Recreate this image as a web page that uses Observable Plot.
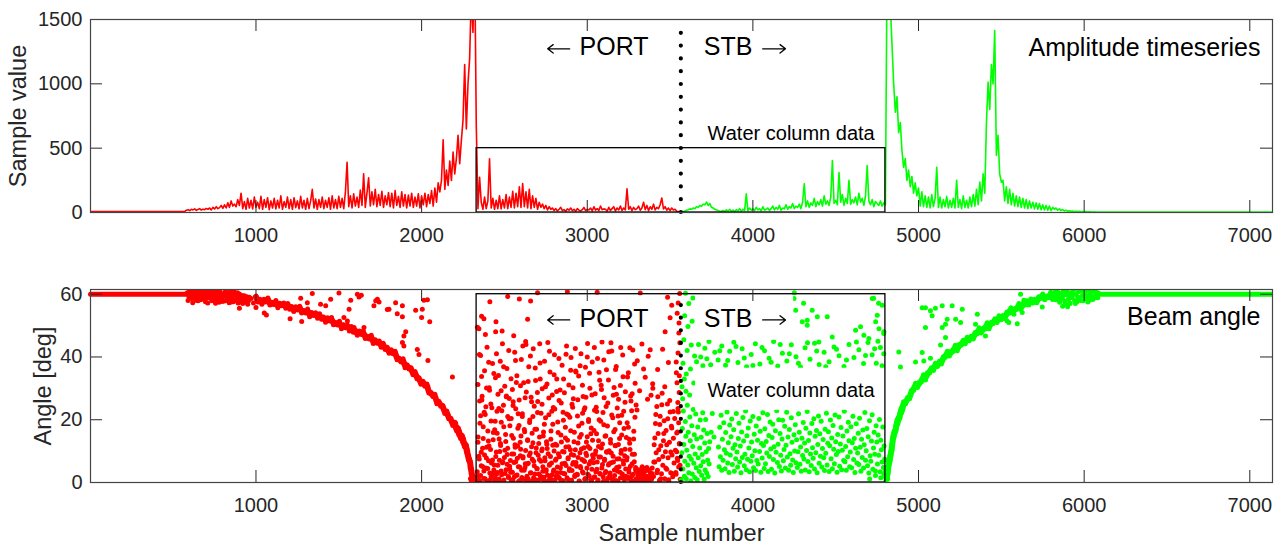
<!DOCTYPE html>
<html>
<head>
<meta charset="utf-8">
<script src="https://cdn.jsdelivr.net/npm/d3@7"></script>
<script src="https://cdn.jsdelivr.net/npm/@observablehq/plot@0.6"></script>
<style>
  html, body { margin: 0; padding: 0; background: white; }
  #chart svg { display: block; }
</style>
</head>
<body>
<div id="chart"></div>
<script>
// ================= DATA =================
const xTicks = [1000, 2000, 3000, 4000, 5000, 6000, 7000];
const ampTicks = [0, 500, 1000, 1500];
const angleTicks = [0, 20, 40, 60];
const firstSample = 1;
const lastSample = 7137;

// ---- Amplitude timeseries: one value every ampStep samples ----
const ampStep = 10;
const ampFlatPort = 8;
const ampFlatStb = 4;
const ampPortStart = 580;
const ampPort = [
  18,22,15,25,20,28,17,24,30,19,26,22,31,
  25,35,20,40,28,45,30,38,55,32,
  60,35,75,40,90,50,65,45,100,55,
  150,30,85,25,110,35,95,28,120,40,
  80,30,125,25,100,40,115,22,90,35,
  110,28,95,35,130,25,85,40,120,30,
  100,25,115,38,90,28,125,35,95,25,
  110,30,90,180,35,105,25,100,40,120,
  30,95,40,115,25,130,35,100,30,125,
  40,110,30,160,390,45,130,35,145,50,
  120,40,175,55,300,40,150,270,50,160,
  60,180,45,140,55,165,40,130,60,155,
  45,150,35,170,55,125,40,160,50,140,
  35,135,50,150,40,120,50,145,35,130,
  60,150,45,140,70,170,50,190,80,230,
  160,250,565,180,330,210,400,250,470,300,
  420,600,380,560,720,1150,650,1000,1200,1700,1400,2000,680,
  30,274,80,25,120,30,90,
  417,35,110,25,95,30,130,28,100,35,
  140,30,120,40,165,35,150,45,200,40,
  225,45,160,35,180,30,130,40,110,25,
  80,40,65,30,55,20,45,25,35,15,
  30,12,25,40,15,22,10,28,18,35,
  15,25,10,30,18,12,22,40,15,25,
  20,35,12,45,18,30,15,50,22,28,
  25,10,40,15,30,45,12,35,20,50,
  15,35,20,185,25,45,15,40,22,30,
  50,18,35,80,22,55,15,45,25,65,
  20,40,30,60,113,28,45,18,35,15,
  35,20,25,10,8,3
];
const ampStbStart = 3570;
const ampStb = [
  3,8,12,18,
  22,28,25,35,30,45,40,55,48,65,
  60,80,55,70,40,35,25,20,15,12,
  10,15,8,20,12,25,10,18,8,22,
  12,30,10,25,15,145,12,35,18,28,
  15,40,20,30,12,45,18,25,35,15,
  30,50,20,40,25,55,18,35,28,60,
  25,45,35,70,30,50,40,65,30,80,
  223,45,90,40,75,55,110,45,85,60,
  100,50,130,65,90,55,120,404,70,95,
  60,311,80,140,55,110,70,250,65,100,
  75,120,60,150,80,110,55,130,365,90,
  60,100,45,85,70,55,90,50,75,60,
  1900,2400,1600,1300,1000,780,900,620,700,480,
  350,420,250,330,200,280,150,230,130,190,
  50,160,45,130,40,120,35,140,45,110,
  352,40,120,35,100,45,125,35,95,40,
  110,35,250,40,100,30,130,40,95,35,
  120,45,140,50,180,60,236,90,300,150,
  700,1013,800,1150,1000,1414,443,600,300,236,
  250,90,200,70,180,60,150,50,130,45,
  120,40,110,35,100,30,90,35,80,28,
  75,25,70,22,60,20,55,18,50,15,
  40,25,35,18,28,15,22,12,18,10,
  14,9,12,8,10,7,9,6,8,6,
  7,5,6,5,4,5,4,4
];

// ---- Beam angle (bottom) ----
const angleFlat = 60;
const portFlatEnd = 580;
const stbFlatStart = 6085;

const portCluster = [
  [585,60.5],[595,59.2],[605,60.8],[612,58.6],[620,59.9],[630,61.0],[638,58.1],[645,60.2],[655,59.0],[662,61.2],
  [670,58.4],[680,60.6],[688,59.4],[695,57.6],[705,60.9],[712,58.9],[720,61.1],[728,59.7],[735,57.9],[745,60.3],
  [752,58.5],[760,61.0],[768,59.3],[777,57.4],[785,60.7],[792,58.8],[800,60.0],[810,57.8],[818,61.2],[826,59.1],
  [835,58.3],[842,60.4],[850,57.5],[858,59.6],[867,60.8],[875,58.0],[884,59.2],[892,57.2],[900,60.1],[910,58.7],
  [920,57.0],[930,59.5],[940,58.1],[950,56.8],[960,59.0],[900,55.5],[640,59.8],[700,59.0],[760,58.6],[830,60.0],
  [590,58.0],[600,61.3],[610,59.6],[618,57.3],[625,60.4],[634,58.9],[642,61.4],[650,57.9],[658,60.0],[666,58.2],
  [675,59.8],[684,61.3],[692,58.6],[700,60.3],[709,57.2],[716,59.5],[724,60.8],[732,58.3],[740,61.2],[748,59.0],
  [756,57.1],[764,60.4],[772,58.5],[780,61.1],[788,59.7],[796,57.7],[805,59.3],[814,60.6],[822,58.0],[830,59.4],
  [838,57.3],[846,60.9],[854,58.8],[863,57.6],[871,59.9],[880,58.4],[888,60.5],[896,58.9],[905,57.5],[915,59.6],
  [925,58.3],[935,57.6],[945,59.2],[955,57.9],[970,58.6],[985,57.2],[1000,55.8],[1050,54.0]
];
const portArcStart = 1000, portArcStep = 12;
const portArc = [
  59.2,57.5,58.4,56.8,58.4,57.5,58.8,56.6,57.4,56.7,58.0,55.7,57.1,56.3,57.2,55.5,
  57.0,55.2,56.1,54.5,56.0,55.0,56.2,54.0,54.8,54.0,55.3,52.8,54.2,53.2,54.1,52.3,
  53.8,52.0,52.7,51.1,52.5,51.5,52.6,50.3,51.0,50.2,51.4,49.0,50.3,49.3,50.2,48.3,
  49.7,47.9,48.6,46.9,48.3,47.2,48.3,45.9,46.6,45.7,46.9,44.3,45.5,44.4,45.1,43.1,
  44.4,42.4,43.1,41.2,42.3,41.0,41.8,39.1,39.6,38.4,39.4,36.6,37.5,36.2,36.6,34.3,
  35.4,33.1,33.4,31.3,32.3,30.7,31.4,28.5,28.7,27.4,28.1,25.1,25.9,24.3,24.5,22.0,
  22.8,20.3,20.5,18.2,19.1
];
const portSteepStart = 2203, portSteepStep = 3;
const portSteep = [
  18.9,17.3,17.8,16.4,17.5,16.6,17.4,15.3,16.5,14.9,15.4,14.0,15.1,14.2,15.0,12.9,
  14.1,12.4,12.8,11.3,12.3,11.3,12.0,9.6,10.5,8.6,8.8,7.1,7.7,6.5,6.8,4.2,
  4.7,2.6,2.5,0.5,1.1
];
const portOutliers = [
  [1063,53.4],[1206,52.2],[1270,58.7],[1276,51.3],[1310,57.3],[1340,60.2],[1390,56.8],[1421,56.3],[1451,58.4],
  [1501,60.4],[1531,52.6],[1552,51.5],[1562,55.2],[1572,58.1],[1592,49.4],[1612,60.0],[1622,59.1],[1636,59.7],
  [1652,49.4],[1712,56.3],[1723,57.9],[1733,58.4],[1743,57.5],[1793,55.1],[1803,55.2],[1843,57.3],[1853,53.8],
  [1884,56.3],[1884,52.8],[1893,46.7],[1884,44.6],[1893,43.5],[1904,48.0],[1964,54.9],[2004,55.2],[2000,52.6],
  [2049,51.2],[2014,58.1],[2035,58.2],[1974,42.4],[1984,40.8],[2038,38.9],[2186,33.6],
  [2295,1.2],[2300,0.3],[2315,0.8],[2320,1.5],[2325,0.4]
];
// scattered port water-column samples, listed as [sample, angle]
const portWater = [
  [2338,2.1],[2345,8.4],[2352,0.6],[2360,5.3],[2368,10.9],[2376,3.7],[2383,1.2],[2391,7.8],[2399,4.5],[2407,11.6],[2414,0.9],[2422,6.2],[2430,2.8],
  [2341,14.5],[2356,21.3],[2372,17.8],[2388,24.1],[2403,13.2],[2419,19.6],[2433,15.9],
  [2340,31.2],[2349,40.8],[2365,27.5],[2380,35.6],[2395,43.1],[2410,29.4],[2428,37.9],
  [2337,49.5],[2362,53.0],[2385,47.2],[2412,57.6],[2376,52.2],[2346,49.0],[2447,48.0],[2356,40.5],
  [2438,5.6],[2444,1.4],[2451,9.7],[2457,3.2],[2464,0.4],[2470,7.1],[2477,11.8],[2483,2.5],[2490,6.6],[2497,0.8],[2503,10.3],[2510,4.1],[2517,8.9],[2524,1.9],[2531,5.2],
  [2441,16.8],[2455,22.7],[2468,13.9],[2481,19.2],[2494,24.6],[2507,15.3],[2520,21.0],[2533,18.1],
  [2446,33.4],[2461,28.1],[2475,38.6],[2488,44.2],[2502,30.7],[2515,36.3],[2529,26.8],
  [2449,51.2],[2486,48.3],[2520,59.3],
  [2538,3.3],[2545,9.1],[2551,0.7],[2558,6.4],[2565,11.2],[2571,2.2],[2578,7.7],[2585,0.3],[2592,4.9],[2598,10.6],[2605,1.6],[2612,8.2],[2619,3.9],[2626,6.0],[2632,0.9],
  [2541,20.4],[2554,14.1],[2568,23.5],[2581,17.3],[2595,12.8],[2608,21.9],[2622,16.2],
  [2548,29.6],[2562,41.5],[2575,34.0],[2589,26.3],[2602,39.2],[2616,31.8],[2630,44.0],
  [2556,46.8],[2590,58.5],[2628,44.9],[2658,57.8],[2640,52.0],
  [2637,5.9],[2644,1.1],[2650,8.6],[2657,3.0],[2664,11.4],[2670,0.5],[2677,6.8],[2684,2.7],[2691,9.5],[2697,4.4],[2704,0.8],[2711,7.3],[2718,2.0],[2725,10.1],[2732,5.0],
  [2640,13.6],[2653,19.9],[2667,15.7],[2680,24.3],[2694,17.0],[2707,12.4],[2721,22.1],[2734,14.8],
  [2647,36.9],[2661,27.2],[2674,42.6],[2688,32.5],[2701,25.8],[2715,38.1],[2728,29.9],[2700,60.5],
  [2738,1.7],[2745,6.9],[2751,3.6],[2758,10.8],[2765,0.6],[2771,5.5],[2778,8.3],[2785,2.4],[2792,11.9],[2798,4.0],[2805,0.9],[2812,7.5],[2819,3.1],[2826,9.2],[2832,1.3],
  [2741,18.6],[2754,13.0],[2768,21.6],[2781,16.4],[2795,23.9],[2808,12.2],[2822,19.3],
  [2748,30.5],[2762,44.6],[2775,35.2],[2789,27.9],[2802,40.7],[2816,33.0],[2830,26.1],
  [2838,4.7],[2845,0.4],[2851,9.9],[2858,2.9],[2865,6.1],[2871,11.3],[2878,1.5],[2885,7.9],[2892,3.8],[2898,10.4],[2905,0.7],[2912,5.8],[2919,8.7],[2926,2.3],[2932,6.4],
  [2841,15.1],[2854,22.4],[2868,17.6],[2881,13.5],[2895,20.8],[2908,24.9],[2922,16.0],
  [2848,37.4],[2862,28.6],[2875,43.5],[2889,31.1],[2902,39.8],[2916,26.7],[2930,35.5],[2880,60.8],
  [2938,2.6],[2945,8.0],[2951,0.5],[2958,5.1],[2965,10.7],[2971,3.4],[2978,7.0],[2985,1.0],[2992,9.3],[2998,4.6],[3005,11.5],[3012,2.1],[3019,6.7],[3026,0.6],[3032,8.8],
  [2941,21.2],[2954,14.4],[2968,18.9],[2981,23.2],[2995,12.9],[3008,20.1],[3022,15.5],
  [2948,33.9],[2962,41.0],[2975,27.4],[2989,36.7],[3002,44.3],[3016,30.0],[3030,38.4],
  [3038,6.3],[3045,1.8],[3051,10.0],[3058,4.2],[3065,0.8],[3071,8.1],[3078,2.7],[3085,11.0],[3092,5.7],[3098,0.4],[3105,7.4],[3112,3.5],[3119,9.6],[3126,1.4],[3132,6.0],
  [3041,16.6],[3054,24.0],[3068,13.3],[3081,19.5],[3095,22.3],[3108,14.7],[3122,18.0],
  [3048,28.3],[3062,39.5],[3075,32.6],[3089,44.8],[3102,27.0],[3116,35.9],[3130,41.7],[3060,60.6],
  [3138,3.0],[3145,9.4],[3151,0.9],[3158,6.5],[3165,2.2],[3171,11.7],[3178,4.8],[3185,0.5],[3192,7.6],[3198,3.3],[3205,10.2],[3212,1.6],[3219,5.9],[3226,8.5],[3232,2.0],
  [3141,12.6],[3154,20.6],[3168,16.9],[3181,23.7],[3195,14.0],[3208,21.4],[3222,17.2],
  [3148,41.9],[3162,30.3],[3175,37.0],[3189,26.5],[3202,43.0],[3216,33.7],[3230,28.9],
  [3238,7.2],[3245,1.3],[3251,4.3],[3258,10.5],[3265,0.7],[3271,6.0],[3278,2.6],[3285,9.0],[3292,4.0],[3298,1.1],
  [3241,19.0],[3254,13.8],[3268,22.9],[3281,16.3],[3295,24.7],
  [3248,35.0],[3262,27.6],[3275,42.2],[3289,31.6],[3302,38.8],[3316,29.2],[3330,44.1],
  [3310,2.3],[3322,0.6],[3335,3.9],[3320,60.4],
  [3345,1.5],[3360,4.8],[3375,0.8],[3390,2.9],[3350,33.5],[3368,40.2],[3385,27.8],
  [3402,6.5],[3408,14.2],[3414,21.7],[3420,3.1],[3426,27.3],[3432,10.4],[3438,18.5],[3444,1.2],[3450,24.8],[3456,8.3],
  [3462,15.6],[3468,30.5],[3474,4.6],[3480,12.0],[3486,20.3],[3492,0.9],[3498,26.1],[3504,9.7],[3510,17.4],[3516,2.8],
  [3520,22.6],[3425,36.0],[3455,42.5],[3490,38.2],[3470,48.0],[3500,52.5],[3510,56.5],[3485,59.0],
  [3535,3.2],[3540,9.8],[3545,16.1],[3550,22.5],[3555,28.7],[3538,35.0],[3548,41.3],[3553,47.6],[3543,53.9],[3558,60.2],
  [3560,5.5],[3557,12.3],[3552,19.0],[3547,25.5],[3542,31.8],[3537,38.4],[3559,44.5],[3554,50.8],[3549,57.2],[3561,1.0],
  [3556,34.0],[3546,7.0],
  [2350,26.0],[2362,33.8],[2378,22.4],[2392,30.1],[2405,38.3],[2418,25.0],[2436,34.7],[2452,41.0],[2466,23.6],[2480,29.2],
  [2495,36.9],[2511,27.3],[2526,42.1],[2540,33.1],[2553,25.7],[2567,38.9],[2583,21.9],[2597,30.8],[2611,43.5],[2625,27.0],
  [2643,32.2],[2657,40.3],[2672,21.0],[2686,36.5],[2699,28.7],[2713,44.2],[2727,24.9],[2742,38.6],[2757,31.4],[2772,41.8],
  [2786,22.7],[2800,34.3],[2815,29.0],[2829,39.5],[2843,25.3],[2857,33.0],[2872,40.9],[2886,21.5],[2900,35.8],[2914,30.2],
  [2928,42.7],[2943,26.4],[2957,37.2],[2971,31.0],[2986,23.8],[3000,40.0],[3014,34.8],[3028,27.9],[3043,43.0],[3057,22.6],
  [3071,35.1],[3086,29.6],[3100,39.0],[3114,24.2],[3128,32.7],[3143,44.5],[3157,27.8],[3171,36.0],[3186,21.2],[3200,30.9],
  [3214,40.6],[3228,25.6],[3243,33.6],[3257,42.9],[3271,28.3],[3286,37.8],[3300,23.1],[3340,36.2],[3380,42.3],[3395,31.5]
];
// denser port water-column samples, one every portDenseStep samples
const portDenseStart = 2336, portDenseStep = 4;
const portDense = [
  3.4,12.8,0.7,7.5,18.9,2.2,9.6,26.3,5.1,14.0,
  1.3,8.8,21.7,4.6,11.2,0.5,16.4,6.9,30.2,3.0,
  10.5,1.9,23.8,7.2,13.6,4.0,0.8,19.5,8.3,2.6,
  15.7,5.5,34.1,1.1,9.9,12.4,3.7,22.9,6.3,0.4,
  17.8,8.0,2.9,13.1,27.6,5.8,10.9,1.6,20.3,4.3,
  7.0,0.9,15.0,3.3,24.5,9.1,1.8,12.0,6.6,31.9,
  2.4,11.6,5.0,18.2,0.6,8.5,14.8,3.9,21.0,7.8,
  1.0,16.9,4.8,10.2,28.8,2.0,13.4,6.1,0.3,19.1,
  9.4,3.1,25.7,7.4,12.7,1.5,5.3,17.0,0.9,11.0,
  4.5,22.3,8.7,2.7,14.5,33.0,6.8,1.2,10.7,3.6,
  16.1,0.5,7.9,20.6,4.1,12.2,2.3,9.2,26.9,5.7,
  1.4,13.8,6.2,0.8,18.6,3.5,10.0,23.4,7.1,2.1,
  11.9,4.9,15.9,1.7,8.2,29.5,3.2,12.9,6.0,0.6,
  19.8,9.7,2.8,14.2,5.4,21.8,1.0,7.6,11.4,4.4,
  0.7,16.5,8.9,3.8,24.0,6.4,13.0,1.9,10.4,35.2,
  5.2,2.5,12.6,18.0,0.4,9.5,4.7,15.3,7.3,22.1,
  3.0,11.1,6.7,1.3,27.2,8.6,14.6,2.6,19.4,5.9,
  10.8,0.9,17.4,4.2,13.5,7.7,1.6,23.0,9.0,3.4,
  15.5,6.5,0.5,11.5,20.0,2.9,8.1,31.0,4.6,12.3,
  1.8,18.4,7.0,3.1,14.9,9.8,0.8,25.3,5.6,10.1,
  2.2,13.7,6.3,21.5,1.1,8.4,16.2,4.0,11.8,0.6,
  28.1,7.5,3.6,12.1,5.0,19.0,1.4,9.3,15.1,2.7,
  6.9,22.7,0.9,10.6,4.3,14.3,8.0,1.7,17.6,3.3,
  12.5,5.2,26.0,2.0,9.0,0.5,13.9,6.6,20.8,4.8,
  1.2,3.5,0.7,2.4,4.1,1.6,0.4,3.0,2.2,5.0,
  0.9,2.8,4.4,1.3,3.7,0.6,2.0,26.5,1.5,4.0,
  0.8,3.2,2.5,1.0,4.6,30.0,1.9,12.0,6.5,18.8,
  9.5,24.2,3.9,15.6,7.3,0.7,21.1,11.7,2.8,28.4,
  5.5,13.3,19.7,1.2,9.8,16.6,4.2,25.0,7.9,0.5,
  12.8,22.5,3.1,17.9,8.8,1.8,14.1,6.2,20.4,10.3,
  2.6,15.8,7.7,23.6,4.9,12.4
];

const stbSteepStart = 4805, stbSteepStep = 3;
const stbSteep = [
  1.5,1.1,2.8,2.6,5.0,5.3,7.3,6.4,8.7,8.5,10.2,10.1,12.5,12.9,15.0,14.2,
  16.3,15.5,16.9,16.3,18.3,18.2,19.9,18.6,20.6,19.8,21.1,20.4,22.2,22.1,23.6,22.2,
  24.2,23.3,24.6
];
const stbArcStart = 4910, stbArcStep = 12;
const stbArc = [
  25.7,25.1,27.1,26.7,29.4,29.4,31.6,30.3,32.0,32.1,34.3,32.7,35.0,34.9,36.6,35.7,
  38.0,37.0,38.6,37.8,40.1,39.9,41.8,40.3,41.8,41.8,43.7,42.0,44.0,43.8,45.3,44.2,
  46.3,45.2,46.6,45.7,47.8,47.4,49.3,47.6,49.1,48.9,50.9,49.0,51.0,50.7,52.2,51.0,
  53.1,51.9,53.2,52.2,54.3,53.9,55.7,54.0,55.4,55.2,57.0,55.1,57.0,56.6,57.9,56.6,
  58.5,57.2,58.4,57.3,59.2,58.6,60.1,58.2,59.4,58.9,60.6,58.5
];
const stbCluster = [
  [5822,60.6],[5830,58.2],[5838,61.1],[5845,59.0],[5852,57.4],[5860,60.3],[5867,58.7],[5875,61.2],[5882,57.8],[5890,59.8],
  [5897,60.9],[5905,58.4],[5912,57.2],[5920,60.5],[5927,59.1],[5935,61.3],[5942,58.0],[5950,59.9],[5957,57.6],[5965,60.8],
  [5972,58.9],[5980,61.0],[5987,59.4],[5995,57.9],[6002,60.2],[6010,58.6],[6017,61.2],[6025,59.6],[6032,58.1],[6040,60.7],
  [6047,59.2],[6055,61.0],[6062,58.8],[6070,60.1],[6077,59.5],[6085,60.4],[5870,56.2],[5885,56.8],[5900,56.0],[5915,57.0],
  [5826,59.4],[5842,60.2],[5856,58.6],[5872,59.6],[5888,61.0],[5902,59.9],[5918,58.9],[5932,60.1],[5947,57.0],[5962,59.0],
  [5977,58.0],[5992,60.9],[6007,59.2],[6022,57.5],[6037,59.8],[6052,58.3],[6067,61.1],[6082,58.9]
];
const stbOutliers = [
  [4800,3.5],[4803,0.5],[4809,4.8],[4813,1.0],[4816,6.5],
  [5022,55.7],[5042,55.7],[5072,54.7],[5082,53.1],[5102,55.5],[5143,56.3],[5203,56.3],[5264,55.2],[5224,52.0],[5254,51.0],
  [5355,53.6],[5344,50.4],[5143,49.4],[5163,50.4],[5173,52.0],[5042,49.4],[5163,46.2],[5133,43.8],[4881,41.6],[4891,36.8],
  [4982,38.4],[5022,41.4],[5032,38.7],[5072,39.6],[5404,46.7],[5616,60.0],[5636,58.1],[5747,55.9],
  [5535,51.5],[5545,51.0],[5596,50.6],[5576,53.6],[5626,54.2]
];
// scattered starboard water-column samples, listed as [sample, angle]
const stbWater = [
  [3572,30.5],[3578,38.0],[3583,45.5],[3588,53.1],[3593,60.3],[3598,34.6],[3603,42.1],[3608,49.7],[3613,57.0],[3618,27.9],
  [3623,36.2],[3628,43.8],[3633,51.4],[3638,58.8],[3643,31.7],[3648,40.3],[3576,26.7],[3586,33.0],[3596,29.1],
  [3660,38.5],[3672,44.0],[3685,40.0],[3698,37.2],[3710,42.8],[3722,39.4],[3735,44.9],[3745,37.5],
  [3755,22.0],[3765,14.5],[3770,41.5],[3748,16.0],
  [3790,39.0],[3812,43.5],[3835,37.4],[3860,41.8],[3885,44.7],[3910,38.2],[3935,42.6],[3962,36.9],[3990,40.8],[4015,44.2],
  [4042,37.8],[4070,42.0],[4098,39.6],[4125,44.9],[4150,37.1],[4178,41.2],[4205,38.7],[4232,43.9],[4260,40.1],[4288,36.8],
  [4315,42.9],[4345,39.3],[4372,44.4],[4400,37.6],[4430,41.5],[4460,38.5],[4490,43.2],[4520,40.4],[4550,37.0],[4580,44.0],
  [4610,39.8],[4640,42.3],[4668,37.9],[4695,44.6],[4720,40.7],[4745,38.0],[4770,43.0],[4790,41.0],[4755,45.0],[4780,37.2],
  [3800,42.0],[3848,38.9],[3898,43.3],[3948,39.7],[4000,37.3],[4055,43.0],[4110,38.3],[4165,44.0],[4220,41.0],[4275,38.0],
  [4330,44.5],[4385,41.9],[4440,36.9],[4505,42.5],[4565,39.0],[4625,44.8],[4680,40.5],[4735,42.6],
  [4248,58.6],[4258,54.9],[4298,51.2],[4328,50.1],[4358,54.9],[4389,52.8],[4449,52.8],[4479,46.4],[4620,48.5],[4650,49.6],
  [4670,46.9],[4700,45.9],[4721,58.6],[4741,51.2],[4751,53.3],[4781,56.5],[4761,49.0],[4791,48.0],[4729,58.7],[4759,57.1],
  [4790,47.5],[4306,57.1],[4328,51.7],[4398,44.8],[4250,60.5],
  [4772,1.5],[4792,2.6],[4740,2.2],[4705,1.1]
];
// denser starboard samples next to the divider, one every stbColumnStep samples
const stbColumnStart = 3568, stbColumnStep = 3;
const stbColumn = [
  0.8,9.5,17.2,4.3,22.8,12.1,2.0,6.8,19.4,14.7,1.2,10.3,24.6,5.6,16.0,3.1,8.4,20.9,13.3,0.5,
  7.4,18.1,2.7,11.5,23.3,6.1,15.2,1.6,9.1,21.8,4.7,13.9,0.9,17.7,7.9,25.2,3.5,11.0,19.9,5.3,
  14.4,2.3,8.9,22.2,6.6,16.7,1.0,12.6,4.0,20.1,9.8,3.0,15.6,7.1,1.9,10.8,5.9,13.0
];
// denser starboard water-column samples, one every stbDenseStep samples
const stbDenseStart = 3792, stbDenseStep = 4;
const stbDense = [
  11.3,5.0,17.6,8.2,21.4,3.9,13.8,7.1,19.0,10.4,
  4.4,15.9,9.3,22.5,6.2,12.7,3.2,18.3,8.8,14.6,
  20.2,5.7,10.9,16.8,3.6,12.0,7.6,22.0,9.7,4.9,
  14.0,18.9,6.5,11.6,3.1,16.1,8.0,20.7,13.2,5.3,
  9.0,22.8,4.1,14.9,7.4,17.4,11.0,3.4,19.6,6.8,
  12.9,8.5,21.0,4.7,15.4,10.1,3.8,18.0,7.0,13.5,
  5.9,20.4,9.9,16.3,3.3,12.4,7.8,22.2,11.8,4.5,
  17.1,6.0,13.1,9.4,21.7,3.5,15.0,8.3,19.3,10.7,
  4.2,14.3,18.6,7.3,11.4,3.0,16.5,9.6,22.9,6.4,
  12.2,20.0,5.1,15.6,8.7,3.7,13.9,19.8,6.9,10.5,
  17.9,4.6,11.9,22.4,8.1,14.5,3.9,16.9,9.2,5.5,
  20.6,12.8,7.2,3.2,15.2,10.0,18.4,6.3,13.6,4.8,
  9.8,21.9,16.0,5.8,11.3,3.6,14.1,8.6,19.1,7.5,
  12.6,4.0,17.3,10.2,22.6,6.7,13.4,3.4,15.8,9.1,
  5.4,18.8,11.1,7.7,20.3,4.3,14.7,9.5,16.6,3.1,
  12.1,21.2,6.1,15.5,8.4,19.5,4.9,10.8,13.7,7.9,
  3.8,17.0,9.3,22.1,5.6,12.5,16.2,3.5,11.7,19.9,
  7.6,14.2,4.4,18.2,10.6,6.0,21.5,13.0,8.9,3.3,
  15.3,9.9,20.9,5.2,12.3,17.5,4.1,10.3,14.8,7.0,
  22.7,6.6,11.5,3.9,16.4,8.2,19.2,13.3,5.0,9.7,
  17.8,4.7,12.7,21.1,7.3,14.0,3.2,10.9,18.7,6.2,
  9.4,15.7,5.7,20.5,11.2,3.6,13.8,8.0,16.7,4.6,
  12.0,22.3,7.1,10.1,17.2,5.3,14.6,3.0,19.7,8.5,
  6.8,13.2,21.6,4.2,11.0,16.0,9.0,3.7,18.1,12.9,
  5.9,15.1,8.7,20.1,3.4,13.5,10.4,6.5,17.7,4.8,
  11.6,7.4
];

// ---- Annotation settings (positions in data units) ----
const boxStart = 2332, boxEnd = 4800, ampBoxTop = 500, angleBoxTop = 60;
const dividerSample = 3565;
const PORT_COLOR = "#ff0000", STB_COLOR = "#00ff00";
const FONT = "'Liberation Sans', Arial, Helvetica, sans-serif";

// ================= BUILD =================
const xDomain = [firstSample, lastSample];
const W = 1282;
const mL = 90, mR = 10;
const plotW = W - mL - mR;
const tickPx = 12;
const tickLenX = tickPx * (xDomain[1] - xDomain[0]) / plotW;
const DOT_R = 2.5;

const portLine = [{s: firstSample, v: ampFlatPort}, {s: ampPortStart - ampStep, v: ampFlatPort},
  ...ampPort.map((v, i) => ({s: ampPortStart + i * ampStep, v}))];
const stbLine = [...ampStb.map((v, i) => ({s: ampStbStart + i * ampStep, v})),
  {s: lastSample, v: ampFlatStb}];

const toPts = arr => arr.map(([s, a]) => ({s, a}));
const seq = (start, step, arr) => arr.map((a, i) => ({s: start + i * step, a}));
const portArcPts = [...seq(portArcStart, portArcStep, portArc), ...seq(portSteepStart, portSteepStep, portSteep)];
const stbArcPts = [...seq(stbSteepStart, stbSteepStep, stbSteep), ...seq(stbArcStart, stbArcStep, stbArc)];
const portDots = [
  ...toPts(portCluster), ...portArcPts, ...toPts(portOutliers), ...toPts(portWater),
  ...seq(portDenseStart, portDenseStep, portDense)
];
const stbDots = [
  ...toPts(stbWater), ...seq(stbColumnStart, stbColumnStep, stbColumn), ...seq(stbDenseStart, stbDenseStep, stbDense),
  ...stbArcPts, ...toPts(stbCluster), ...toPts(stbOutliers)
];

function frameAndTicks(yDomain, yTicks, plotH) {
  const tickLenY = tickPx * (yDomain[1] - yDomain[0]) / plotH;
  const st = {stroke: "#262626", strokeWidth: 1};
  return [
    Plot.ruleX(xTicks, {x: d => d, y1: yDomain[0], y2: yDomain[0] + tickLenY, ...st}),
    Plot.ruleX(xTicks, {x: d => d, y1: yDomain[1] - tickLenY, y2: yDomain[1], ...st}),
    Plot.ruleY(yTicks, {y: d => d, x1: xDomain[0], x2: xDomain[0] + tickLenX, ...st}),
    Plot.ruleY(yTicks, {y: d => d, x1: xDomain[1] - tickLenX, x2: xDomain[1], ...st}),
    Plot.frame({stroke: "#444", strokeWidth: 1.2})
  ];
}

// "← PORT" and "STB →": arrows drawn as arrow marks, words as text
function sideLabels(textY, arrowY) {
  return [
    Plot.arrow([{x1: 2894, x2: 2761}, {x1: 4059, x2: 4197}],
      {x1: "x1", x2: "x2", y1: arrowY, y2: arrowY, stroke: "black", strokeWidth: 1.3, headLength: 8, headAngle: 75}),
    Plot.text([{s: 3162, t: "PORT"}, {s: 3850, t: "STB"}], {x: "s", y: textY, text: "t", fontSize: 25, fill: "black"})
  ];
}

const styleBase = {fontFamily: FONT, fontSize: "20px", color: "#262626", background: "white", overflow: "visible"};

// ---------- Top panel ----------
const topH = 250, topMT = 19, topMB = 38;
const ampDomain = [0, 1500];
const topPlot = Plot.plot({
  width: W, height: topH,
  marginLeft: mL, marginRight: mR, marginTop: topMT, marginBottom: topMB,
  style: styleBase,
  x: {domain: xDomain, ticks: xTicks, tickFormat: "d", tickSize: 0, tickPadding: 15, label: null},
  y: {domain: ampDomain, ticks: ampTicks, tickFormat: "d", tickSize: 0, tickPadding: 8, label: null},
  marks: [
    Plot.line(portLine, {x: "s", y: "v", stroke: PORT_COLOR, strokeWidth: 1.6, clip: true}),
    Plot.line(stbLine, {x: "s", y: "v", stroke: STB_COLOR, strokeWidth: 1.6, clip: true}),
    Plot.rect([{x1: boxStart, x2: boxEnd, y1: 0, y2: ampBoxTop}], {x1: "x1", x2: "x2", y1: "y1", y2: "y2", fill: "none", stroke: "black", strokeWidth: 1.3}),
    Plot.ruleX([dividerSample], {x: d => d, y1: 0, y2: 1415, stroke: "black", strokeWidth: 4.2, strokeLinecap: "round", strokeDasharray: "0 12.8"}),
    ...sideLabels(() => 1285, () => 1272),
    Plot.text([{s: 4231, v: 616, t: "Water column data"}], {x: "s", y: "v", text: "t", fontSize: 20, fill: "black"}),
    Plot.text(["Amplitude timeseries"], {text: d => d, frameAnchor: "top-right", textAnchor: "end", lineAnchor: "middle", dx: -12, dy: 28, fontSize: 25, fill: "black"}),
    Plot.text(["Sample value"], {text: d => d, frameAnchor: "left", textAnchor: "middle", lineAnchor: "middle", rotate: -90, dx: -72, fontSize: 23.5, fill: "#262626"}),
    ...frameAndTicks(ampDomain, ampTicks, topH - topMT - topMB)
  ]
});

// ---------- Bottom panel ----------
const botH = 294, botMT = 39, botMB = 62;
const angleDomain = [0, 61.5];
const botPlot = Plot.plot({
  width: W, height: botH,
  marginLeft: mL, marginRight: mR, marginTop: botMT, marginBottom: botMB,
  style: styleBase,
  x: {domain: xDomain, ticks: xTicks, tickFormat: "d", tickSize: 0, tickPadding: 15, label: null},
  y: {domain: angleDomain, ticks: angleTicks, tickFormat: "d", tickSize: 0, tickPadding: 8, label: null},
  marks: [
    Plot.line([{s: firstSample, a: angleFlat}, {s: portFlatEnd, a: angleFlat}], {x: "s", y: "a", stroke: PORT_COLOR, strokeWidth: 5, strokeLinecap: "round"}),
    Plot.line([{s: stbFlatStart, a: angleFlat}, {s: lastSample, a: angleFlat}], {x: "s", y: "a", stroke: STB_COLOR, strokeWidth: 5, strokeLinecap: "butt"}),
    Plot.line(portArcPts, {x: "s", y: "a", stroke: PORT_COLOR, strokeWidth: 6, curve: "basis"}),
    Plot.line(stbArcPts, {x: "s", y: "a", stroke: STB_COLOR, strokeWidth: 6, curve: "basis"}),
    Plot.dot(portDots, {x: "s", y: "a", r: DOT_R, fill: PORT_COLOR, stroke: "none", clip: true}),
    Plot.dot(stbDots, {x: "s", y: "a", r: DOT_R, fill: STB_COLOR, stroke: "none", clip: true}),
    // white backgrounds of the text labels
    Plot.rect([
      {x1: 2719, x2: 3431, y1: 45.3, y2: 59.4},
      {x1: 3654, x2: 4246, y1: 45.3, y2: 59.4},
      {x1: 3654, x2: boxEnd, y1: 23.0, y2: 36.4}
    ], {x1: "x1", x2: "x2", y1: "y1", y2: "y2", fill: "white"}),
    Plot.rect([{x1: boxStart, x2: boxEnd, y1: 0, y2: angleBoxTop}], {x1: "x1", x2: "x2", y1: "y1", y2: "y2", fill: "none", stroke: "black", strokeWidth: 1.3}),
    Plot.ruleX([dividerSample], {x: d => d, y1: 0, y2: 58, stroke: "black", strokeWidth: 4.2, strokeLinecap: "round", strokeDasharray: "0 12.64"}),
    ...sideLabels(() => 52.2, () => 51.8),
    Plot.text([{s: 4231, a: 29.4, t: "Water column data"}], {x: "s", y: "a", text: "t", fontSize: 20, fill: "black"}),
    Plot.text(["Beam angle"], {text: d => d, frameAnchor: "top-right", textAnchor: "end", lineAnchor: "middle", dx: -12, dy: 27.5, fontSize: 25, fill: "black"}),
    Plot.text(["Angle [deg]"], {text: d => d, frameAnchor: "left", textAnchor: "middle", lineAnchor: "middle", rotate: -90, dx: -47, fontSize: 23.5, fill: "#262626"}),
    Plot.text(["Sample number"], {text: d => d, frameAnchor: "bottom", lineAnchor: "middle", dy: 51, fontSize: 23.5, fill: "#262626"}),
    ...frameAndTicks(angleDomain, angleTicks, botH - botMT - botMB)
  ]
});

const chart = document.getElementById("chart");
chart.appendChild(topPlot);
chart.appendChild(botPlot);
</script>
</body>
</html>
